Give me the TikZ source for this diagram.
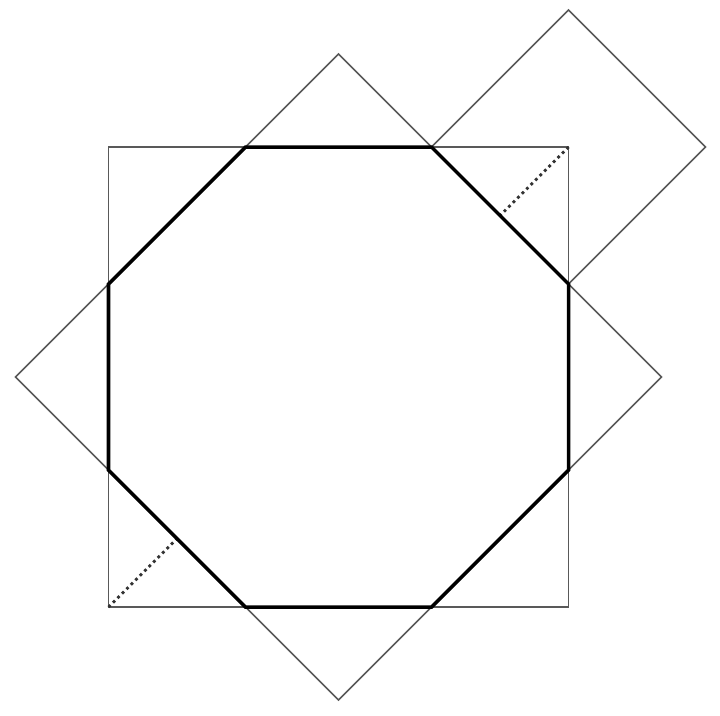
\documentclass[tikz,border=0pt]{standalone}
\usetikzlibrary{calc}

\tikzset{
  thinline/.style={draw=black!65, line width=0.45pt},
  octline/.style={draw=black, line width=1pt, line join=miter},
  dotline/.style={draw=black!80, line width=0.8pt, densely dotted}
}

\begin{document}
\begin{tikzpicture}
    \useasboundingbox (-3.385,-3.38) rectangle (3.815,3.77);

    \pgfmathsetmacro{\hs}{2.3}
    \pgfmathsetmacro{\dg}{3.23}
    \pgfmathsetmacro{\ct}{\dg-\hs}
    \pgfmathsetmacro{\sm}{\hs-\ct}
    \pgfmathsetmacro{\md}{(\hs+\ct)/2}

    % square and turned square
    \coordinate (sqne) at (\hs,\hs);
    \coordinate (sqsw) at (-\hs,-\hs);
    \draw[thinline] (sqsw) rectangle (sqne);
    \draw[thinline] (0,\dg) -- (\dg,0) -- (0,-\dg) -- (-\dg,0) -- cycle;

    % small square on the corner
    \draw[thinline] ($(sqne)+(0,\sm)$) -- ($(sqne)+(\sm,0)$)
      -- ($(sqne)+(0,-\sm)$) -- ($(sqne)+(-\sm,0)$) -- cycle;

    % octagon
    \coordinate (o1) at (-\ct,\hs);
    \coordinate (o2) at (\ct,\hs);
    \coordinate (o3) at (\hs,\ct);
    \coordinate (o4) at (\hs,-\ct);
    \coordinate (o5) at (\ct,-\hs);
    \coordinate (o6) at (-\ct,-\hs);
    \coordinate (o7) at (-\hs,-\ct);
    \coordinate (o8) at (-\hs,\ct);

    \coordinate (mne) at (\md,\md);
    \coordinate (msw) at (-\md,-\md);
    \draw[dotline] (sqne) -- (mne);
    \draw[dotline] (sqsw) -- (msw);

    \draw[octline] (o1) -- (o2) -- (o3) -- (o4) -- (o5) -- (o6) -- (o7) -- (o8) -- cycle;

\end{tikzpicture}
\end{document}
